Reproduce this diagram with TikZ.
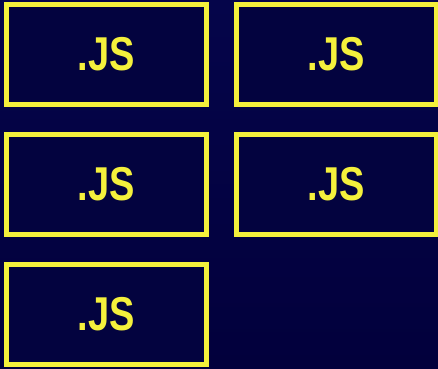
\documentclass[tikz,border=0pt]{standalone}
\usepackage{fontspec}
\usepackage{xcolor}
\usepackage{tikz}
\usetikzlibrary{positioning}
\newfontfamily\jsfont[FakeStretch=0.8]{Liberation Sans}
\definecolor{Lemon}{HTML}{F4F03C}
\definecolor{NavyTop}{HTML}{05054A}
\definecolor{NavyLow}{HTML}{02003C}
\definecolor{Navy}{HTML}{03033F}

\begin{document}
\begin{tikzpicture}[
  x=1pt,y=1pt,
  jsbox/.style={draw=Lemon,fill=Navy,line width=5pt,minimum width=200pt,minimum height=100pt,
    inner sep=0pt,text=Lemon,font=\jsfont\bfseries\fontsize{47.5}{50}\selectfont}
]
  \shade[top color=NavyTop,bottom color=NavyLow] (0,0) rectangle (438,-368);
  \useasboundingbox (0,0) rectangle (438,-368);
  \node[jsbox] (js1) at (106.5,-54.5) {.JS};
  \node[jsbox] (js2) at (336,-54.5) {.JS};
  \node[jsbox] (js3) at (106.5,-184.5) {.JS};
  \node[jsbox] (js4) at (336,-184.5) {.JS};
  \node[jsbox] (js5) at (106.5,-314.5) {.JS};
\end{tikzpicture}
\end{document}
